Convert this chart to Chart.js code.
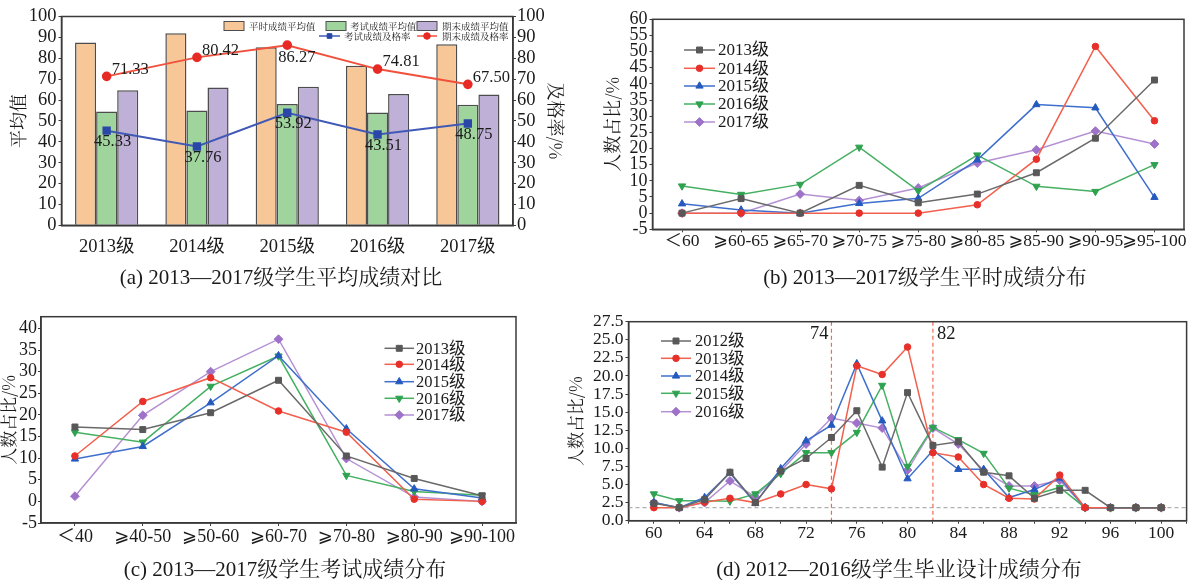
<!DOCTYPE html>
<html><head><meta charset="utf-8">
<script src="https://cdn.jsdelivr.net/npm/chart.js@4.4.1/dist/chart.umd.min.js"></script>
<style>
html,body{margin:0;padding:0;background:#fff;}
body{width:1192px;height:580px;position:relative;overflow:hidden;}
canvas{position:absolute;}
.cap{position:absolute;font-family:"Liberation Serif","Noto Serif CJK SC","Noto Sans CJK SC",serif;font-size:21px;color:#1a1a1a;white-space:nowrap;transform:translate(-50%,-50%);line-height:1;}
</style></head>
<body>
<canvas id="ca" width="590" height="300" style="left:0;top:0"></canvas>
<canvas id="cb" width="602" height="300" style="left:590px;top:0"></canvas>
<canvas id="cc" width="560" height="280" style="left:0;top:300px"></canvas>
<canvas id="cd" width="632" height="280" style="left:560px;top:300px"></canvas>
<div class="cap" style="left:281px;top:277px">(a) 2013—2017级学生平均成绩对比</div>
<div class="cap" style="left:925px;top:277px">(b) 2013—2017级学生平时成绩分布</div>
<div class="cap" style="left:285px;top:569px">(c) 2013—2017级学生考试成绩分布</div>
<div class="cap" style="left:899px;top:569px">(d) 2012—2016级学生毕业设计成绩分布</div>
<script>
// ---------- data ----------
const gradesA = ['2013级','2014级','2015级','2016级','2017级'];
const usualAvg = [87.5, 92.0, 85.3, 76.4, 86.7];
const examAvg  = [54.5, 55.0, 58.1, 54.0, 57.7];
const finalAvg = [64.7, 66.0, 66.3, 62.9, 62.6];
const examPass  = [45.33, 37.76, 53.92, 43.51, 48.75];
const finalPass = [71.33, 80.42, 86.27, 74.81, 67.50];

const rangesB = ['＜60','⩾60-65','⩾65-70','⩾70-75','⩾75-80','⩾80-85','⩾85-90','⩾90-95','⩾95-100'];
const usual2013 = [0, 4.5, 0, 8.6, 3.2, 5.9, 12.5, 23.2, 41.2];
const usual2014 = [0, 0, 0, 0, 0, 2.6, 16.7, 51.6, 28.6];
const usual2015 = [2.9, 1.0, 0, 3.0, 4.6, 16.5, 33.6, 32.6, 4.9];
const usual2016 = [8.4, 5.8, 8.9, 20.4, 6.9, 18.0, 8.3, 6.7, 15.0];
const usual2017 = [0, 0, 5.9, 3.9, 7.8, 15.5, 19.6, 25.4, 21.4];

const rangesC = ['＜40','⩾40-50','⩾50-60','⩾60-70','⩾70-80','⩾80-90','⩾90-100'];
const ticksC = [-5, 0, 5, 10, 15, 20, 25, 30, 35, 40];
const exam2013 = [17.2, 16.6, 20.5, 28.0, 10.5, 5.3, 1.3];
const exam2014 = [10.5, 23.1, 28.6, 20.9, 16.0, 0.5, 0];
const exam2015 = [9.8, 12.7, 22.8, 33.7, 16.8, 2.9, 0.8];
const exam2016 = [16.0, 13.7, 26.6, 33.6, 6.0, 2.3, 1.4];
const exam2017 = [1.2, 19.9, 30.0, 37.5, 9.9, 1.0, 0];

const scoresD = [60,62,64,66,68,70,72,74,76,78,80,82,84,86,88,90,92,94,96,98,100];
const design2012 = [2.4,1.8,2.9,6.7,2.5,6.85,8.6,11.5,15.2,7.4,17.7,10.4,10.9,6.7,6.2,3.1,4.2,4.2,1.8,1.8,1.8];
const design2013 = [1.8,1.8,2.55,3.1,2.5,3.7,5.0,4.4,21.4,20.2,24.0,9.4,8.8,5.0,3.1,3.0,6.3,1.8,1.8,1.8,1.8];
const design2014 = [2.5,1.8,3.2,6.6,2.4,7.2,11.05,13.2,21.7,13.8,5.8,9.7,7.1,7.1,3.2,4.3,5.9,1.8,1.8,1.8,1.8];
const design2015 = [3.7,2.75,2.75,2.7,3.7,6.5,9.4,9.4,12.2,18.7,7.5,12.9,11.2,9.3,4.5,3.6,4.6,1.8,1.8,1.8,1.8];
const design2016 = [2.5,1.8,2.5,5.5,3.3,6.85,10.6,14.2,13.5,12.8,7.0,12.8,10.6,6.9,4.8,4.8,5.6,1.8,1.8,1.8,1.8];
const markLinesD = [74, 82];
const baseLineD = 1.8;

// ---------- styles ----------
const SERIF = '"Liberation Serif","DejaVu Serif","DejaVu Sans","Noto Sans CJK SC",serif';
const CJK = '"Noto Serif CJK SC","Noto Sans CJK SC",sans-serif';
const AX = '#3a3a3a';
const TXT = '#1a1a1a';
const COL = {
  gray:  {line:'#6a6a6a', mk:'#585858'},
  red:   {line:'#f2604e', mk:'#e8302a'},
  blue:  {line:'#3f6fcc', mk:'#2459be'},
  green: {line:'#45b062', mk:'#2ea24f'},
  purple:{line:'#b591d4', mk:'#9e72c8'}
};
const MK = {
  sq:{ps:'rect', r:4.2, rot:0},
  ci:{ps:'circle', r:3.3, rot:0},
  tu:{ps:'triangle', r:4.2, rot:0},
  td:{ps:'triangle', r:4.2, rot:180},
  di:{ps:'rectRot', r:4.4, rot:0}
};

function lineDS(label, data, c, m) {
  return {label, data, borderColor:c.line, backgroundColor:c.mk,
    pointBackgroundColor:c.mk, pointBorderColor:c.mk, borderWidth:1.5,
    pointStyle:m.ps, pointRotation:m.rot, pointRadius:m.r, pointBorderWidth:1, tension:0};
}

function drawMarker(ctx, ps, rot, r, x, y, fill) {
  ctx.save();
  ctx.fillStyle = fill; ctx.strokeStyle = fill; ctx.lineWidth = 1;
  if (Chart.helpers && Chart.helpers.drawPoint) {
    Chart.helpers.drawPoint(ctx, {pointStyle:ps, rotation:rot, radius:r, borderWidth:1}, x, y);
  } else {
    ctx.beginPath(); ctx.arc(x, y, r, 0, Math.PI*2); ctx.fill();
  }
  ctx.restore();
}

const framePlugin = {
  id:'frame',
  afterDraw(chart) {
    const a = chart.chartArea, ctx = chart.ctx;
    ctx.save(); ctx.strokeStyle = AX; ctx.lineWidth = 1.5;
    ctx.strokeRect(a.left, a.top, a.right - a.left, a.bottom - a.top);
    ctx.restore();
  }
};

const lineLegend = {
  id:'lg',
  afterDraw(chart, args, o) {
    if (!o || !o.ys) return;
    const ctx = chart.ctx;
    chart.data.datasets.forEach((ds, i) => {
      const y = o.ys[i];
      ctx.save();
      ctx.strokeStyle = ds.borderColor; ctx.lineWidth = ds.borderWidth;
      ctx.beginPath(); ctx.moveTo(o.x0, y); ctx.lineTo(o.x1, y); ctx.stroke();
      ctx.restore();
      drawMarker(ctx, ds.pointStyle, ds.pointRotation, ds.pointRadius, (o.x0 + o.x1)/2, y, ds.pointBackgroundColor);
      ctx.save();
      ctx.fillStyle = TXT; ctx.font = o.font; ctx.textAlign = 'left'; ctx.textBaseline = 'middle';
      ctx.fillText(ds.label, o.tx, y + 1);
      ctx.restore();
    });
  }
};

function yAxis(opts) {
  return Object.assign({
    type:'linear',
    border:{color:AX, width:1.5},
    grid:{drawOnChartArea:false, drawTicks:true, tickLength:3, color:AX, tickColor:AX, lineWidth:1},
  }, opts);
}

const common = {
  responsive:false, animation:false, events:[],
};

// ---------- (a) ----------
const aLegend = {
  id:'alg',
  afterDraw(chart) {
    const ctx = chart.ctx;
    const ds = chart.data.datasets;
    const font = '9.5px ' + CJK;
    const boxes = [[224, 249, 0], [326, 350, 1], [417, 442, 2]];
    boxes.forEach(([bx, tx, k]) => {
      ctx.save();
      ctx.fillStyle = ds[k].backgroundColor; ctx.strokeStyle = '#4d4d4d'; ctx.lineWidth = 1;
      ctx.fillRect(bx, 21.5, 20, 9); ctx.strokeRect(bx, 21.5, 20, 9);
      ctx.fillStyle = TXT; ctx.font = font; ctx.textBaseline = 'middle'; ctx.textAlign = 'left';
      ctx.fillText(ds[k].label, tx, 26.2);
      ctx.restore();
    });
    const lines = [[319, 340, 344, 3], [417, 437, 442, 4]];
    lines.forEach(([x0, x1, tx, k]) => {
      const d = ds[k];
      ctx.save();
      ctx.strokeStyle = d.borderColor; ctx.lineWidth = 1.5;
      ctx.beginPath(); ctx.moveTo(x0, 36); ctx.lineTo(x1, 36); ctx.stroke();
      ctx.restore();
      drawMarker(ctx, d.pointStyle, 0, 3.3, (x0 + x1)/2, 36, d.pointBackgroundColor);
      ctx.save();
      ctx.fillStyle = TXT; ctx.font = font; ctx.textBaseline = 'middle'; ctx.textAlign = 'left';
      ctx.fillText(d.label, tx, 36.2);
      ctx.restore();
    });
  }
};
const aLabels = {
  id:'alab',
  afterDatasetsDraw(chart) {
    const ctx = chart.ctx;
    const specs = [
      {index:3, off:i => [6, 11, 'center']},
      {index:4, off:i => i === 2 ? [-9, 13, 'left'] : [5, -7, 'left']}
    ];
    specs.forEach(s => {
      const meta = chart.getDatasetMeta(s.index);
      const data = chart.data.datasets[s.index].data;
      meta.data.forEach((pt, i) => {
        const [dx, dy, al] = s.off(i);
        ctx.save();
        ctx.fillStyle = TXT; ctx.font = '16.5px ' + SERIF; ctx.textAlign = al; ctx.textBaseline = 'middle';
        ctx.fillText(data[i].toFixed(2), pt.x + dx, pt.y + dy);
        ctx.restore();
      });
    });
  }
};

new Chart(document.getElementById('ca'), {
  type:'bar',
  data:{
    labels:gradesA,
    datasets:[
      {label:'平时成绩平均值', data:usualAvg, backgroundColor:'#f8c797', borderColor:'#4d4d4d', borderWidth:1.5, yAxisID:'y', order:2},
      {label:'考试成绩平均值', data:examAvg, backgroundColor:'#9fd49c', borderColor:'#4d4d4d', borderWidth:1.5, yAxisID:'y', order:2},
      {label:'期末成绩平均值', data:finalAvg, backgroundColor:'#beb0d6', borderColor:'#4d4d4d', borderWidth:1.5, yAxisID:'y', order:2},
      {type:'line', label:'考试成绩及格率', data:examPass, borderColor:'#4159b6', borderWidth:2,
        pointStyle:'rect', pointRadius:4.5, pointBackgroundColor:'#2a47a8', pointBorderColor:'#2a47a8', yAxisID:'y1', order:0},
      {type:'line', label:'期末成绩及格率', data:finalPass, borderColor:'#f1513c', borderWidth:2,
        pointStyle:'circle', pointRadius:3.8, pointBackgroundColor:'#e82a24', pointBorderColor:'#e82a24', yAxisID:'y1', order:0}
    ]
  },
  options:Object.assign({}, common, {
    layout:{padding:{left:0, right:23, top:16.5, bottom:0}},
    datasets:{bar:{barPercentage:1.0, categoryPercentage:0.7}},
    plugins:{legend:{display:false}, tooltip:{enabled:false}},
    scales:{
      x:{type:'category', offset:true, grid:{display:false}, border:{color:AX, width:1.5},
        ticks:{font:{family:SERIF, size:18.5}, color:TXT, padding:3, maxRotation:0},
        afterFit(s){ s.height = 74.7; }},
      y:yAxis({position:'left', min:0, max:100,
        ticks:{stepSize:10, autoSkip:false, font:{family:SERIF, size:18.5}, color:TXT, padding:2},
        title:{display:true, text:'平均值', font:{family:CJK, size:18}, color:TXT, padding:{top:7, bottom:0}},
        afterFit(s){ s.width = 61.5; }}),
      y1:yAxis({position:'right', min:0, max:100,
        ticks:{stepSize:10, autoSkip:false, font:{family:SERIF, size:18.5}, color:TXT, padding:1},
        title:{display:true, text:'及格率/%', font:{family:CJK, size:18}, color:TXT, padding:{top:0, bottom:0}},
        afterFit(s){ s.width = 54; }})
    }
  }),
  plugins:[framePlugin, aLabels, aLegend]
});

// ---------- (b) ----------
new Chart(document.getElementById('cb'), {
  type:'line',
  data:{
    labels:rangesB,
    datasets:[
      lineDS('2013级', usual2013, COL.gray, MK.sq),
      lineDS('2014级', usual2014, COL.red, MK.ci),
      lineDS('2015级', usual2015, COL.blue, MK.tu),
      lineDS('2016级', usual2016, COL.green, MK.td),
      lineDS('2017级', usual2017, COL.purple, MK.di)
    ]
  },
  options:Object.assign({}, common, {
    layout:{padding:{left:0, right:8, top:19.3, bottom:0}},
    plugins:{legend:{display:false}, tooltip:{enabled:false},
      lg:{x0:94, x1:125, tx:128, ys:[50, 68.3, 86, 104, 122], font:'17px ' + SERIF}},
    scales:{
      x:{type:'category', offset:true, border:{color:AX, width:1.5},
        grid:{drawOnChartArea:false, tickLength:3, color:AX, offset:false},
        ticks:{font:{family:SERIF, size:17.5, lineHeight:1}, color:TXT, padding:0, maxRotation:0, autoSkip:false},
        afterFit(s){ s.height = 70.7; }},
      y:yAxis({position:'left', min:-5, max:60,
        ticks:{stepSize:5, autoSkip:false, font:{family:SERIF, size:18}, color:TXT, padding:2},
        title:{display:true, text:'人数占比/%', font:{family:CJK, size:18}, color:TXT, padding:{top:11, bottom:0}},
        afterFit(s){ s.width = 62.5; }})
    }
  }),
  plugins:[framePlugin, lineLegend]
});

// ---------- (c) ----------
new Chart(document.getElementById('cc'), {
  type:'line',
  data:{
    labels:rangesC,
    datasets:[
      lineDS('2013级', exam2013, COL.gray, MK.sq),
      lineDS('2014级', exam2014, COL.red, MK.ci),
      lineDS('2015级', exam2015, COL.blue, MK.tu),
      lineDS('2016级', exam2016, COL.green, MK.td),
      lineDS('2017级', exam2017, COL.purple, MK.di)
    ]
  },
  options:Object.assign({}, common, {
    layout:{padding:{left:0, right:44, top:16.7, bottom:0}},
    plugins:{legend:{display:false}, tooltip:{enabled:false},
      lg:{x0:384.5, x1:414, tx:416, ys:[48.3, 64.3, 81.7, 98.3, 115], font:'16.5px ' + SERIF}},
    scales:{
      x:{type:'category', offset:true, border:{color:AX, width:1.5},
        grid:{drawOnChartArea:false, tickLength:3, color:AX, offset:false},
        ticks:{font:{family:SERIF, size:18, lineHeight:1}, color:TXT, padding:2, maxRotation:0, autoSkip:false},
        afterFit(s){ s.height = 57; }},
      y:yAxis({position:'left', min:-5, max:42.7,
        ticks:{autoSkip:false, font:{family:SERIF, size:18}, color:TXT, padding:1},
        afterBuildTicks(s){ s.ticks = ticksC.map(v => ({value:v})); },
        title:{display:true, text:'人数占比/%', font:{family:CJK, size:17, lineHeight:1}, color:TXT, padding:{top:0.5, bottom:0}},
        afterFit(s){ s.width = 41; }})
    }
  }),
  plugins:[framePlugin, lineLegend]
});

// ---------- (d) ----------
const dMarks = {
  id:'dmarks',
  beforeDatasetsDraw(chart) {
    const ctx = chart.ctx, a = chart.chartArea, xs = chart.scales.x, ys = chart.scales.y;
    ctx.save();
    ctx.setLineDash([4, 3]); ctx.lineWidth = 1.2;
    ctx.strokeStyle = '#b0b0b0';
    const yb = ys.getPixelForValue(baseLineD);
    ctx.beginPath(); ctx.moveTo(a.left, yb); ctx.lineTo(a.right, yb); ctx.stroke();
    ctx.strokeStyle = '#f26a4f';
    markLinesD.forEach(v => {
      const px = xs.getPixelForValue(v);
      ctx.beginPath(); ctx.moveTo(px, a.top); ctx.lineTo(px, a.bottom); ctx.stroke();
    });
    ctx.setLineDash([]);
    ctx.fillStyle = TXT; ctx.font = '18.5px ' + SERIF; ctx.textBaseline = 'middle';
    const p0 = xs.getPixelForValue(markLinesD[0]);
    ctx.textAlign = 'right'; ctx.fillText(String(markLinesD[0]), p0 - 3, a.top + 12);
    const p1 = xs.getPixelForValue(markLinesD[1]);
    ctx.textAlign = 'left'; ctx.fillText(String(markLinesD[1]), p1 + 4, a.top + 12);
    ctx.restore();
  }
};
function xy(arr) { return arr.map((v, i) => ({x:scoresD[i], y:v})); }
new Chart(document.getElementById('cd'), {
  type:'line',
  data:{
    datasets:[
      lineDS('2012级', xy(design2012), COL.gray, MK.sq),
      lineDS('2013级', xy(design2013), COL.red, MK.ci),
      lineDS('2014级', xy(design2014), COL.blue, MK.tu),
      lineDS('2015级', xy(design2015), COL.green, MK.td),
      lineDS('2016级', xy(design2016), COL.purple, MK.di)
    ]
  },
  options:Object.assign({}, common, {
    layout:{padding:{left:0, right:1, top:21.7, bottom:0}},
    plugins:{legend:{display:false}, tooltip:{enabled:false},
      lg:{x0:101, x1:131, tx:135, ys:[41, 58.3, 76, 93.3, 111.7], font:'16.5px ' + SERIF}},
    scales:{
      x:{type:'linear', min:58, max:102, border:{color:AX, width:1.5},
        grid:{drawOnChartArea:false, tickLength:3, color:AX},
        ticks:{stepSize:2, autoSkip:false, maxRotation:0, font:{family:SERIF, size:17.5, lineHeight:1}, color:TXT, padding:1,
          callback:v => (v % 4 === 0 && v >= 60 && v <= 100) ? String(v) : ''},
        afterFit(s){ s.height = 59.3; }},
      y:yAxis({position:'left', min:0, max:27.5,
        ticks:{stepSize:2.5, autoSkip:false, font:{family:SERIF, size:17.5}, color:TXT, padding:2, callback:v => Number(v).toFixed(1)},
        title:{display:true, text:'人数占比/%', font:{family:CJK, size:17}, color:TXT, padding:{top:5, bottom:0}},
        afterFit(s){ s.width = 68.5; }})
    }
  }),
  plugins:[framePlugin, dMarks, lineLegend]
});
</script>
</body></html>
